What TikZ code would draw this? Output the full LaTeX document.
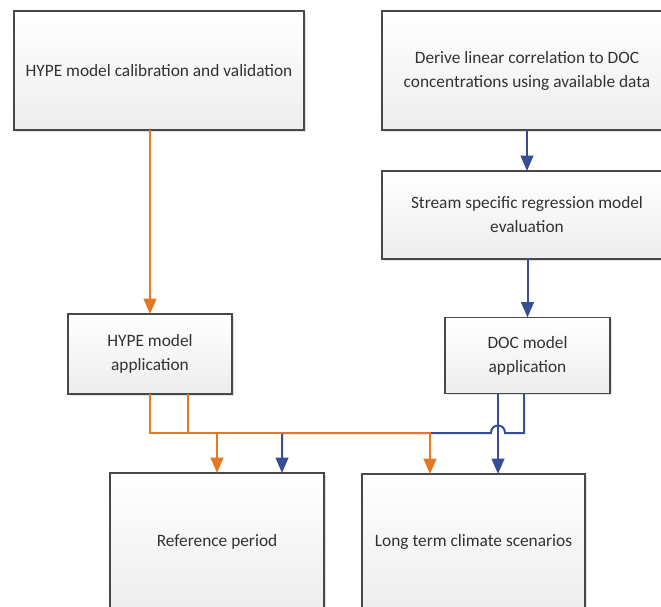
\documentclass[tikz,border=0pt]{standalone}
\usepackage{fontspec}
\setmainfont{Carlito}
\usetikzlibrary{arrows.meta,shadows,calc}
\definecolor{orangeline}{RGB}{226,120,36}
\definecolor{blueline}{RGB}{56,78,148}
\definecolor{boxborder}{RGB}{72,72,72}
\definecolor{txt}{RGB}{50,50,50}
\begin{document}
\begin{tikzpicture}[x=0.75pt,y=-0.75pt,
  box/.style={draw=boxborder, line width=1.1pt, rectangle, inner sep=0pt, outer sep=0pt,
    top color=white, bottom color=black!7, text=txt, align=center,
    font=\fontsize{13pt}{18pt}\selectfont,
    drop shadow={shadow xshift=1.4pt, shadow yshift=-1.4pt, fill=black, opacity=0.12}},
  conn/.style={draw=#1, line width=1.5pt, line join=miter, -{Triangle[length=11.5pt,width=9.5pt,fill=#1]}}]
\useasboundingbox (0,0) rectangle (661,607);
\fill[white] (0,0) rectangle (661,607);

\node[box, minimum width=217.5pt, minimum height=89.25pt] (A) at (159,70.5) {HYPE model calibration and validation};
\node[box, minimum width=217.5pt, minimum height=89.25pt] (B) at (527,70.5) {Derive linear correlation to DOC\\concentrations using available data};
\node[box, minimum width=217.5pt, minimum height=66pt] (C) at (527,215) {Stream specific regression model\\evaluation};
\node[box, minimum width=123pt, minimum height=60pt] (D) at (150,354) {HYPE model\\application};
\node[box, minimum width=123.75pt, minimum height=57pt] (E) at (527.5,355.5) {DOC model\\application};
\node[box, minimum width=160.5pt, minimum height=103.5pt] (F) at (217,542) {Reference period};
\node[box, minimum width=167.25pt, minimum height=102pt] (G) at (473.5,542) {Long term climate scenarios};

% vertical flows
\draw[conn=orangeline] (A.south -| D.north) -- (D.north);
\draw[conn=blueline] (B.south) -- (C.north |- B.south) -- (C.north);
\draw[conn=blueline] (C.south) -- (C.south -| E.north) -- (E.north);

% bus
\coordinate (bus) at (0,433);
\coordinate (dL) at (D.south);
\coordinate (dR) at ($(D.south)+(38,0)$);
\coordinate (eL) at ($(E.south)+(-29.5,0)$);
\coordinate (eR) at ($(E.south)+(-3.5,0)$);
\coordinate (fB) at ($(F.north)+(65,0)$);
\coordinate (gO) at ($(G.north)+(-43.5,0)$);

% blue connectors (under)
\draw[conn=blueline] (eL) -- (eL |- G.north);
\draw[conn=blueline] (eR) -- (eR |- bus) -- ($(eL |- bus)+(7,0)$)
  .. controls +(0,-10) and +(0,-10) .. ($(eL |- bus)+(-7,0)$) -- (fB |- bus) -- (fB);

% orange connectors (over)
\draw[conn=orangeline] (dL) -- (dL |- bus) -- (gO |- bus) -- (gO);
\draw[conn=orangeline] (dR) -- (dR |- bus) -- (F.north |- bus) -- (F.north);
\end{tikzpicture}
\end{document}
